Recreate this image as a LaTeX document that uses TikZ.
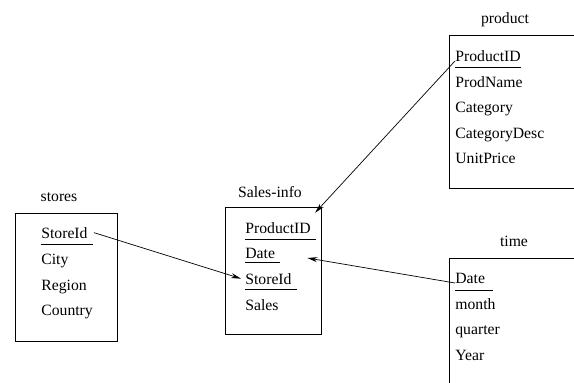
\documentclass[tikz,border=0pt]{standalone}
\usepackage{fontspec}
\setmainfont{Liberation Serif}
\usetikzlibrary{arrows.meta}
\begin{document}
\begin{tikzpicture}[
    x=1pt, y=-1pt,
    attr/.style={anchor=base west, inner sep=0pt, font=\rmfamily\fontsize{15.7}{18}\selectfont},
    title/.style={anchor=base, inner sep=0pt, font=\rmfamily\fontsize{15.7}{18}\selectfont},
    tbl/.style={draw, line width=0.8pt},
    >={Stealth[length=10pt,width=5pt]}, line width=0.7pt
]
\clip (0,0) rectangle (574,383);

% stores
\node[title] (stores) at (59,201) {stores};
\draw[tbl] (15,213) rectangle (117,341);
\node[attr] (stid) at (41,238) {StoreId};
\node[attr] (stcity) at (41,264) {City};
\node[attr] (streg) at (41,290) {Region};
\node[attr] (stcty) at (41,315) {Country};
\draw ([yshift=-6pt]stid.base west) -- ([xshift=5pt,yshift=-6pt]stid.base east);

% Sales-info
\node[title] (sales) at (270,197) {Sales-info};
\draw[tbl] (225,207) rectangle (321,334);
\node[attr] (spid) at (245,233) {ProductID};
\node[attr] (sdate) at (245,258) {Date};
\node[attr] (ssid) at (245,284) {StoreId};
\node[attr] (ssales) at (245,310) {Sales};
\draw ([yshift=-6pt]spid.base west) -- ([xshift=5pt,yshift=-6pt]spid.base east);
\draw ([yshift=-4pt]sdate.base west) -- ([xshift=5pt,yshift=-4pt]sdate.base east);
\draw ([yshift=-5pt]ssid.base west) -- ([xshift=5pt,yshift=-5pt]ssid.base east);

% product
\node[title] (product) at (505,23) {product};
\draw[tbl] (449,35) rectangle (600,188);
\node[attr] (ppid) at (455,61) {ProductID};
\node[attr] (pname) at (455,87) {ProdName};
\node[attr] (pcat) at (455,112) {Category};
\node[attr] (pdesc) at (455,138) {CategoryDesc};
\node[attr] (pprice) at (455,163) {UnitPrice};
\draw ([yshift=-6pt]ppid.base west) -- ([yshift=-6pt]ppid.base east);

% time
\node[title] (time) at (514,246) {time};
\draw[tbl] (449,258) rectangle (600,400);
\node[attr] (tdate) at (455,283) {Date};
\node[attr] (tmonth) at (455,309) {month};
\node[attr] (tqtr) at (455,334) {quarter};
\node[attr] (tyear) at (455,360) {Year};
\draw ([yshift=-7pt]tdate.base west) -- ([xshift=8pt,yshift=-7pt]tdate.base east);

% links
\draw[->] (ppid.base west) -- ([xshift=4pt,yshift=9pt]spid.north east);
\draw[->] (tdate.base west) -- ([xshift=32pt,yshift=0pt]sdate.base east);
\draw[->] ([xshift=6pt]stid.east) -- ([xshift=-4pt]ssid.west);
\end{tikzpicture}
\end{document}
